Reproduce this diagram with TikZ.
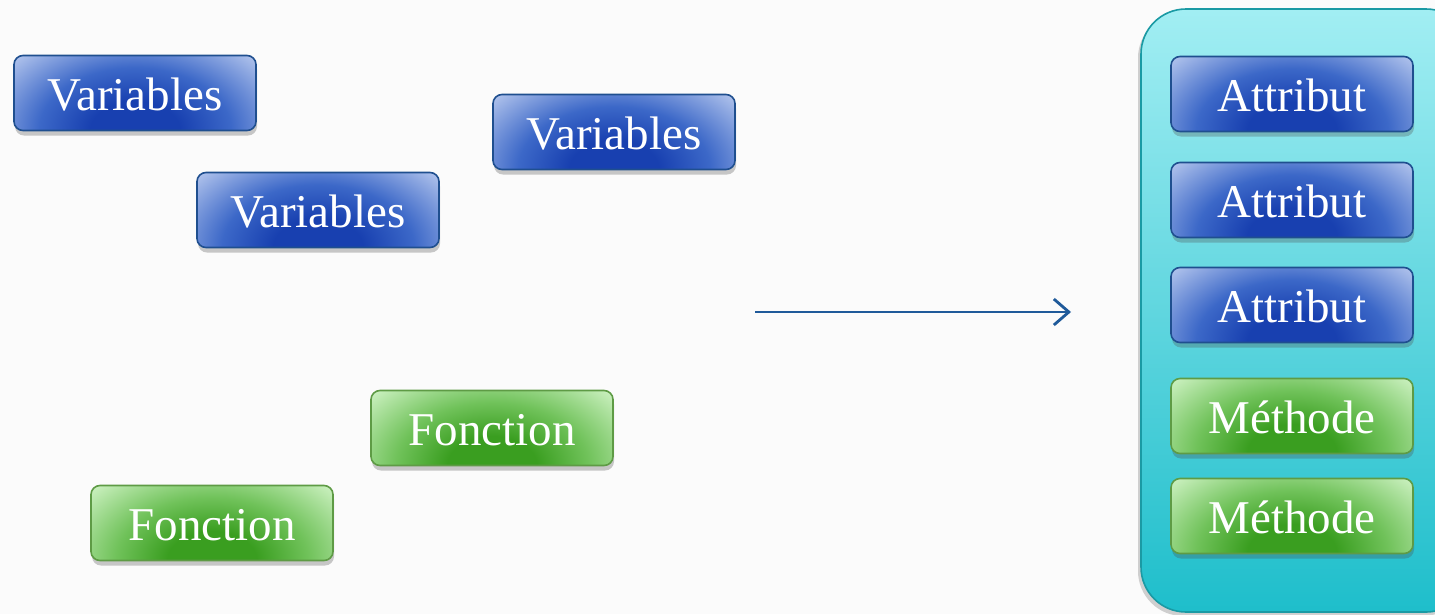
\documentclass[tikz,border=0pt]{standalone}
\usepackage{fontspec}
\setmainfont{Liberation Serif}
\usetikzlibrary{arrows.meta,shadows}

% palette
\definecolor{bgcol}{HTML}{FBFBFB}
\definecolor{bdark}{HTML}{1840B0}
\definecolor{bmid}{HTML}{3C68C8}
\definecolor{blight}{HTML}{AABEEA}
\definecolor{bborder}{HTML}{1F4F8F}
\definecolor{gdark}{HTML}{3A9E20}
\definecolor{gmid}{HTML}{70C25A}
\definecolor{glight}{HTML}{C6EEBA}
\definecolor{gborder}{HTML}{5E9B45}
\definecolor{ctop}{HTML}{A2EEF3}
\definecolor{cbot}{HTML}{1EBECB}
\definecolor{cborder}{HTML}{1A9AA4}
\definecolor{arrowcol}{HTML}{1F5A9A}

% glow rising from the bottom centre of each tag
\pgfdeclareradialshading{bluerad}{\pgfpointorigin}{color(0bp)=(bdark); color(7bp)=(bdark); color(15bp)=(bmid); color(25bp)=(blight); color(50bp)=(blight)}
\pgfdeclareradialshading{greenrad}{\pgfpointorigin}{color(0bp)=(gdark); color(7bp)=(gdark); color(15bp)=(gmid); color(25bp)=(glight); color(50bp)=(glight)}

\tikzset{
  tag/.style={rounded corners=9pt, minimum width=242pt, minimum height=75pt,
    line width=1.6pt, text=white, inner sep=0pt,
    text height=34pt, text depth=0pt,
    font=\fontsize{47}{50}\selectfont,
    drop shadow={shadow xshift=1pt, shadow yshift=-5pt, opacity=0.3, fill=black!70}},
  vartag/.style={tag, draw=bborder, fill=blight,
    path picture={\shade[shading=bluerad] (path picture bounding box.south) ellipse [x radius=160pt, y radius=105pt];}},
  funtag/.style={tag, draw=gborder, fill=glight,
    path picture={\shade[shading=greenrad] (path picture bounding box.south) ellipse [x radius=160pt, y radius=105pt];}},
  classbox/.style={rounded corners=45pt, minimum width=330pt, minimum height=603pt,
    line width=1.6pt, draw=cborder, top color=ctop, bottom color=cbot,
    drop shadow={shadow xshift=-3pt, shadow yshift=-4pt, opacity=0.25, fill=black!70}},
  flow/.style={draw=arrowcol, line width=2.8pt, -{Straight Barb[length=15pt, width=26pt]}}
}

\begin{document}
\begin{tikzpicture}[x=1pt, y=-1pt]
  \useasboundingbox (0,0) rectangle (1435,614);
  \begin{scope}
    \clip (0,0) rectangle (1435,614);
    \fill[bgcol] (0,0) rectangle (1435,614);

    % loose variables and functions
    \node[vartag] (v1) at (135,93)  {Variables};
    \node[vartag] (v2) at (614,132) {Variables};
    \node[vartag] (v3) at (318,210) {Variables};
    \node[funtag] (f1) at (492,428) {Fonction};
    \node[funtag] (f2) at (212,523) {Fonction};

    % arrow towards the class
    \coordinate (a1) at (755,312);
    \coordinate (a2) at (1071,312);
    \draw[flow] (a1) -- (a2);

    % the class grouping attributes and methods
    \node[classbox] (cls) at (1306,310.5) {};
    \node[vartag] (at1) at (1292,94)  {Attribut};
    \node[vartag] (at2) at (1292,200) {Attribut};
    \node[vartag] (at3) at (1292,305) {Attribut};
    \node[funtag] (m1)  at (1292,416) {Méthode};
    \node[funtag] (m2)  at (1292,516) {Méthode};
  \end{scope}
\end{tikzpicture}
\end{document}
